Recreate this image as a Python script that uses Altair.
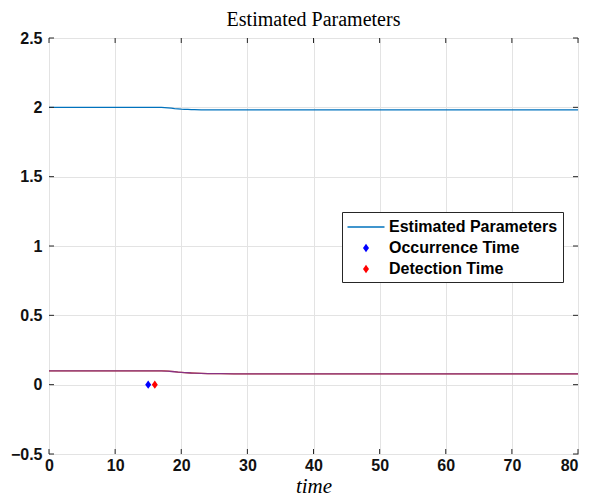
import altair as alt
import pandas as pd

# ---- data ----
t = [0, 5, 10, 15, 16, 16.5, 17, 17.5, 18, 18.5, 19, 19.5, 20, 20.5, 21, 21.5, 22, 23, 24, 25, 26, 28, 30, 40, 50, 60, 70, 80]
p_main = [2.0, 2.0, 2.0, 2.0, 2.0, 2.0, 1.999, 1.998, 1.996, 1.994, 1.991, 1.989, 1.987, 1.986, 1.985, 1.984, 1.983,
          1.982, 1.982, 1.981, 1.981, 1.981, 1.981, 1.981, 1.981, 1.981, 1.981, 1.981]
p_second = [0.1, 0.1, 0.1, 0.1, 0.1, 0.1, 0.1, 0.099, 0.098, 0.096, 0.094, 0.091, 0.089, 0.087, 0.085, 0.084, 0.083,
            0.081, 0.080, 0.079, 0.079, 0.078, 0.078, 0.078, 0.078, 0.078, 0.078, 0.078]
p_third = [0.1, 0.1, 0.1, 0.1, 0.1, 0.1, 0.099, 0.098, 0.097, 0.095, 0.093, 0.091, 0.089, 0.087, 0.086, 0.084, 0.083,
           0.081, 0.080, 0.079, 0.079, 0.078, 0.078, 0.078, 0.078, 0.078, 0.078, 0.078]

event_names = ["Occurrence Time", "Detection Time"]
event_t = [15, 16]
event_y = [0, 0]

series_domain = ["Estimated Parameters", "Occurrence Time", "Detection Time"]
series_colors = ["#0072BD", "#0000FF", "#FF0000"]

x_ticks = [0, 10, 20, 30, 40, 50, 60, 70, 80]
y_ticks = [-0.5, 0, 0.5, 1, 1.5, 2, 2.5]

W, H = 529, 416

main_df = pd.DataFrame({"t": t, "v": p_main})
second_df = pd.DataFrame({"t": t, "v": p_second})
third_df = pd.DataFrame({"t": t, "v": p_third})
ev_df = pd.DataFrame({"t": event_t, "v": event_y, "series": event_names})
xt_df = pd.DataFrame({"t": x_ticks})
yt_df = pd.DataFrame({"v": y_ticks})

xscale = alt.Scale(domain=[0, 80], nice=False, zero=False)
yscale = alt.Scale(domain=[-0.5, 2.5], nice=False, zero=False)

diamond = "M0,-0.42L0.3,0L0,0.42L-0.3,0Z"
line_sym = "M-1.85,-0.07L1.85,-0.07L1.85,0.07L-1.85,0.07Z"

legend = alt.Legend(
    title=None, orient="none", legendX=293, legendY=174,
    strokeColor="#262626", fillColor="white", padding=5,
    labelFont="Liberation Sans", labelFontWeight="bold", labelFontSize=16, labelColor="black",
    labelLimit=0,
    symbolSize=400, rowPadding=3, symbolOffset=9, labelOffset=13, symbolStrokeWidth=0,
)

xenc = alt.X("t:Q", scale=xscale, axis=alt.Axis(values=x_ticks, title="time", grid=True,
                                               labelAlign=alt.expr("datum.value == 80 ? 'right' : 'center'")))
yenc = alt.Y("v:Q", scale=yscale, axis=alt.Axis(values=y_ticks, title=None, grid=True,
                                               labelExpr="datum.value == 0 ? '0' : format(datum.value, '.2~f')"))

line_main = alt.Chart(main_df).mark_line(strokeWidth=1.3, color="#0072BD").encode(x=xenc, y=yenc)
line_second = alt.Chart(second_df).mark_line(strokeWidth=1.3, color="#D95319").encode(x="t:Q", y="v:Q")
line_third = alt.Chart(third_df).mark_line(strokeWidth=1.3, color="#7E2F8E", opacity=0.9).encode(x="t:Q", y="v:Q")

points = alt.Chart(ev_df).mark_point(filled=True, size=400, opacity=1, strokeWidth=0).encode(
    x="t:Q", y="v:Q",
    fill=alt.Fill("series:N", scale=alt.Scale(domain=series_domain, range=series_colors), legend=legend),
    shape=alt.Shape("series:N", scale=alt.Scale(domain=series_domain, range=[line_sym, diamond, diamond]),
                    legend=legend),
)

tick_col = "#262626"
tb = alt.Chart(xt_df).mark_rule(color=tick_col, strokeWidth=1).encode(
    x="t:Q", y=alt.value(H), y2=alt.value(H - 5))
tt = alt.Chart(xt_df).mark_rule(color=tick_col, strokeWidth=1).encode(
    x="t:Q", y=alt.value(0), y2=alt.value(5))
tl = alt.Chart(yt_df).mark_rule(color=tick_col, strokeWidth=1).encode(
    y="v:Q", x=alt.value(0), x2=alt.value(5))
tr = alt.Chart(yt_df).mark_rule(color=tick_col, strokeWidth=1).encode(
    y="v:Q", x=alt.value(W), x2=alt.value(W - 5))

chart = alt.layer(line_main, line_second, line_third, points, tb, tt, tl, tr).properties(
    width=W, height=H,
    padding={"left": 2, "top": 2, "right": 0, "bottom": 0},
    title=alt.Title("Estimated Parameters", font="Liberation Serif", fontSize=20, fontWeight="normal",
                    color="black", offset=0),
).configure_view(stroke=tick_col, strokeWidth=1).configure_axis(
    gridColor="#e3e3e3", gridWidth=1, domain=False, ticks=False,
    labelFont="Liberation Sans", labelFontWeight="bold", labelFontSize=16, labelColor="#111111",
    titleFont="Liberation Serif", titleFontStyle="italic", titleFontWeight="normal", titleFontSize=21,
    titleColor="black",
).configure_axisX(labelPadding=3, titlePadding=2).configure_axisY(labelPadding=7)

chart.save("out.html", embed_options={"renderer": "svg", "actions": False})
